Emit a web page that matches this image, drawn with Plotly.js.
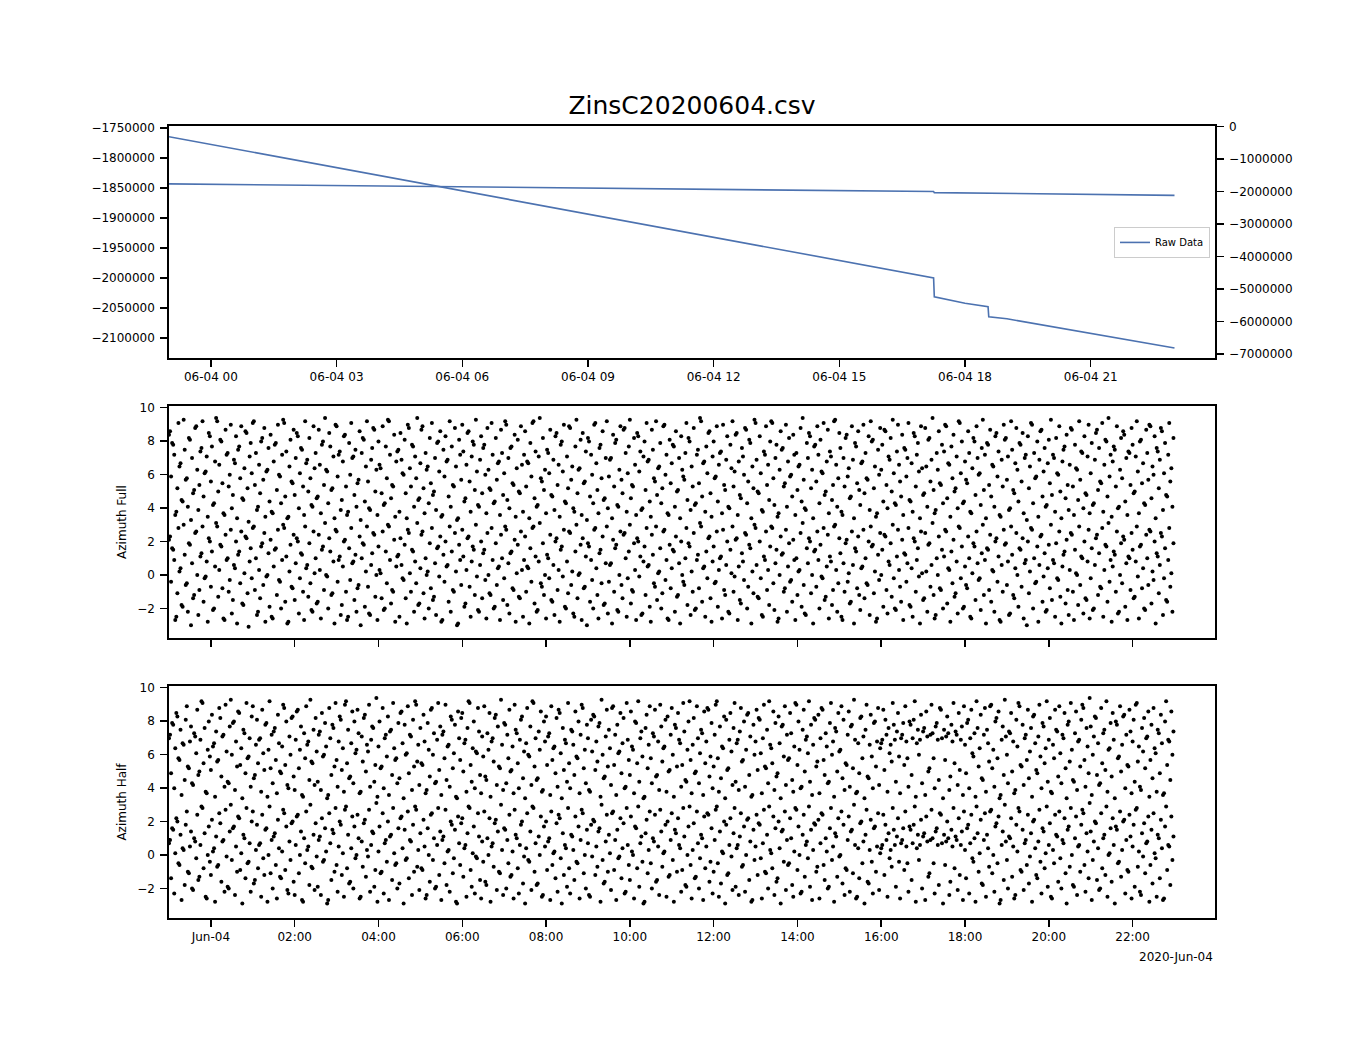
<!DOCTYPE html>
<html>
<head>
<meta charset="utf-8">
<script src="https://cdn.plot.ly/plotly-3.0.1.min.js"></script>
<style>
  html, body { margin: 0; padding: 0; background: #fff; }
  #graph_area { width: 1350px; height: 1050px; }
</style>
</head>
<body>
<div id="graph_area"></div>
<script>
// raw counter
const rawTimes = [
  "2020-06-03 23:00", "2020-06-04 00:00", "2020-06-04 01:00", "2020-06-04 02:00",
  "2020-06-04 03:00", "2020-06-04 04:00", "2020-06-04 05:00", "2020-06-04 06:00",
  "2020-06-04 07:00", "2020-06-04 08:00", "2020-06-04 09:00", "2020-06-04 10:00",
  "2020-06-04 11:00", "2020-06-04 12:00", "2020-06-04 13:00", "2020-06-04 14:00",
  "2020-06-04 15:00", "2020-06-04 16:00", "2020-06-04 17:00", "2020-06-04 17:15",
  "2020-06-04 17:16", "2020-06-04 18:00", "2020-06-04 18:33", "2020-06-04 18:34",
  "2020-06-04 19:00", "2020-06-04 20:00", "2020-06-04 21:00", "2020-06-04 22:00",
  "2020-06-04 23:00"
];
const rawValues = [
  -1764600, -1777500, -1790400, -1803300,
  -1817000, -1829500, -1842500, -1855300,
  -1868500, -1881000, -1894000, -1907000,
  -1920000, -1932500, -1945000, -1958000,
  -1971000, -1984000, -1996500, -1999800,
  -2031400, -2042000, -2048000, -2064600,
  -2068000, -2080000, -2092000, -2104000,
  -2116600
];

// azimuth samples, one every 90 s from 23:00
const sampleStart = "2020-06-03T23:00:00Z";
const sampleStepSec = 90;

const azimuthFull = [
  2.1,2.3,-0.4,1.6,1.5,0.9,-2.7,-2.5,-1.1,2.8,0.2,0.4,-1.8,-1.9,3.0,1.2,-0.6,-0.5,-2.2,1.9,
  1.8,-3.0,0.7,-1.4,-1.2,2.5,2.6,0.0,-2.4,-0.9,1.1,1.3,2.9,-1.6,-0.2,-0.1,0.8,-2.8,2.2,2.0,
  -0.7,1.4,-2.1,-2.0,0.5,3.1,2.9,-1.3,0.3,1.8,1.7,-0.8,-2.6,-2.7,2.4,0.9,1.0,-1.0,-0.3,2.7,
  -2.3,-1.5,0.6,0.4,2.0,-2.9,1.2,1.4,-0.5,2.6,-1.7,-1.8,0.1,2.3,2.2,-1.1,-3.1,0.8,1.6,-0.2,
  2.8,2.9,-0.9,1.0,-2.4,-2.2,0.3,-1.4,1.7,1.9,-0.6,2.5,-2.8,-0.1,0.0,1.3,-1.9,2.1,-2.5,-2.6,
  0.5,1.5,1.6,-1.2,2.7,-0.3,-0.4,-2.0,0.9,3.0,2.8,-1.6,1.1,-2.9,-2.8,0.2,1.8,-0.7,-0.8,2.4,
  -1.5,0.7,2.2,2.0,-2.3,-0.2,1.3,1.2,-1.0,-2.7,2.9,0.4,0.6,-1.3,1.9,-0.5,-2.1,-2.2,2.6,0.1,
  1.0,-1.7,-1.6,2.4,0.3,-2.6,1.5,1.7,-0.9,3.1,0.0,-0.1,-2.0,2.2,1.4,-1.2,-1.1,0.8,-2.9,2.7,
  2.6,-0.4,0.9,1.1,-2.4,-1.8,0.5,2.0,2.1,-1.0,-2.7,-2.5,1.6,-0.3,2.8,0.7,0.8,-1.5,1.2,-2.2,
  -0.8,-0.6,2.3,-3.0,1.0,1.9,1.8,-1.9,0.2,2.9,-0.7,-2.3,-2.4,0.6,1.3,2.5,2.4,-1.3,0.0,-2.7,
  1.7,0.3,0.1,-1.4,2.6,-2.1,-2.0,1.4,-0.5,3.0,2.9,0.9,-1.7,-0.9,-1.0,2.1,-2.8,0.5,1.1,1.2,
  -2.5,2.2,0.6,-0.2,-0.3,1.8,-1.4,-2.9,2.7,2.5,0.1,-1.0,1.5,1.4,-2.2,0.8,-0.5,3.1,-1.8,-1.7,
  0.4,2.4,2.6,-1.1,-2.6,1.0,0.0,0.2,-2.0,1.9,-0.8,2.8,-1.5,-1.3,0.7,-2.4,1.6,1.7,-0.1,2.3,
  -2.8,-2.7,1.2,-0.4,2.0,0.5,0.6,-1.6,2.9,-2.2,1.4,-0.9,-1.0,2.5,0.2,-3.0,-2.9,1.8,0.9,-0.6,
  2.7,1.1,-1.9,-1.7,0.3,2.2,2.3,-0.7,-2.5,0.8,1.7,1.5,-1.2,3.0,-0.1,-2.1,-2.2,0.6,2.0,-1.4,
  1.3,1.5,-0.3,-2.6,2.5,0.0,-1.1,-1.2,2.8,0.9,-2.0,-1.9,1.9,-0.6,0.4,0.5,-2.7,2.4,1.0,-1.5,
  -0.2,2.9,2.7,-1.8,0.7,-2.3,1.3,1.4,-0.8,-0.9,2.1,-2.8,0.1,1.8,-1.3,-1.4,2.6,0.3,-2.5,0.9,
  2.3,-1.0,0.5,0.4,-2.9,1.6,-0.4,2.8,2.9,-1.7,1.1,-2.2,-2.1,0.8,3.1,-0.5,-0.7,1.9,-1.2,0.0,
  -2.6,1.2,1.0,-0.2,2.4,-1.5,-1.6,0.6,-2.4,2.0,2.2,-0.9,0.3,-2.8,1.5,1.7,-0.1,2.7,-1.9,-2.0,
  0.8,-1.1,2.6,2.5,-0.6,0.2,-2.3,-2.5,1.4,3.0,-1.4,0.0,0.1,1.8,-2.7,2.2,-0.8,-0.7,1.1,-3.0,
  1.9,1.7,-1.6,0.9,-0.3,-2.0,2.7,2.8,0.4,-1.2,-2.6,1.3,1.5,-0.5,2.3,-1.8,-1.7,0.7,2.9,-2.3,
  -0.4,0.6,0.7,-2.9,2.1,-1.0,1.6,1.8,-2.1,-2.2,0.0,2.6,-0.6,-1.4,2.4,2.5,1.0,-2.5,-0.2,1.4,
  3.0,-1.7,-0.9,-1.0,1.9,0.3,-2.7,2.2,2.0,-0.1,1.1,-2.4,-2.3,0.8,1.7,-1.2,2.8,0.5,0.6,-1.9,
  -2.8,2.4,1.2,-0.5,-0.7,2.9,-1.5,0.1,0.2,1.6,-2.0,-1.1,2.6,2.7,-0.3,0.9,-2.6,-2.7,1.8,-0.8,
  0.4,1.5,1.4,-2.2,2.3,-1.3,-1.2,0.7,-2.9,2.0,0.0,-0.4,-0.6,1.0,2.8,-1.8,1.9,1.7,-2.4,0.2,
  -1.0,2.5,-2.1,-2.0,0.9,1.2,-0.8,3.1,2.9,-1.6,0.4,0.5,-2.5,1.4,-0.2,2.2,2.3,-1.4,-2.8,0.8,
  1.7,-0.5,-0.4,2.6,-1.9,0.3,1.0,1.1,-2.6,2.7,-0.9,-1.2,0.6,2.0,-2.2,-2.3,1.5,0.1,2.9,-1.0,
  -0.1,2.1,2.2,-2.7,0.5,-1.5,-1.7,1.3,0.8,-0.3,2.5,2.4,-2.0,-0.7,1.8,1.6,-2.9,0.2,-1.1,3.0,
  2.8,0.6,-1.3,-1.4,2.0,-0.2,-2.4,-2.5,1.1,0.9,2.6,-0.9,0.3,-1.8,1.7,2.9,2.8,-0.5,-2.1,0.7,
  1.5,-2.8,-2.6,0.0,2.3,1.2,1.3,-1.0,-0.8,2.7,-2.2,0.5,1.9,-0.4,-0.3,-1.6,2.1,0.9,-2.7,1.0,
  -1.2,0.2,0.3,2.5,-1.9,3.1,-0.6,-2.3,-2.4,1.6,0.7,2.2,2.0,-1.1,0.0,-2.9,1.4,1.5,-0.7,2.6,
  0.9,-2.0,1.8,-0.1,-0.2,2.8,-1.5,-1.3,0.5,2.4,-2.6,1.1,0.8,-1.8,-0.9,2.9,3.0,0.3,-2.2,-0.5,
  2.2,1.3,-2.5,-2.7,0.7,-1.0,1.9,2.1,-0.4,0.1,-1.7,-1.6,2.6,0.6,-2.9,1.6,1.4,-0.8,2.3,-1.2,
  -2.1,0.4,0.5,2.7,-1.4,1.0,-0.5,-0.6,2.0,-2.4,2.9,1.7,1.8,-1.1,0.2,-2.8,-2.6,1.2,-0.3,2.5,
  0.0,1.5,-1.9,2.4,2.3,-0.9,-2.3,0.8,0.6,1.9,-1.3,3.0,-0.2,-2.0,-2.1,1.1,2.7,0.3,-0.7,-1.6,
  2.1,-2.7,1.3,1.2,-0.4,0.7,2.8,-1.8,-1.9,0.4,-2.5,2.2,2.0,-1.0,0.9,1.6,-0.1,-2.9,2.6,0.1,
  -1.5,-1.4,2.5,0.2,-2.2,1.8,1.9,-0.7,0.6,3.1,-1.2,-2.6,-2.4,1.0,0.0,2.3,-0.8,-0.9,1.5,-2.0,
  1.1,2.7,2.6,-1.7,0.4,0.3,-2.8,1.4,-0.5,2.1,-1.3,-1.1,0.8,-2.3,2.9,2.8,-0.2,1.7,-2.0,-1.9,
  0.5,-0.6,-0.8,2.3,1.0,-2.5,-2.6,0.1,1.9,1.7,-1.5,2.6,0.7,-0.3,-0.2,-2.1,1.3,3.0,-1.2,0.9,
  -2.9,1.6,1.5,-0.9,2.4,-1.6,0.3,0.2,-2.2,2.0,2.2,-0.4,1.1,-2.7,-2.8,0.6,-1.0,2.7,1.8,1.9,
  -0.6,0.8,-2.4,-2.3,2.9,1.2,-1.2,-1.4,0.4,2.5,0.0,-1.9,1.6,1.5,-0.7,2.2,-2.6,0.7,0.9,-3.0,
  2.0,-1.1,0.2,2.8,2.7,-2.0,1.0,-0.5,-0.4,1.7,-2.8,0.6,2.3,2.4,-1.6,-0.1,1.3,-2.2,-2.1,0.4,
  1.8,-0.8,3.0,-1.5,0.9,0.7,-2.5,1.9,-0.2,-0.3,2.6,-1.3,-2.9,0.5,1.2,1.4,-1.7,2.1,-0.9,-2.4,
  0.3,2.5,2.4,-1.0,-2.7,1.5,0.1,0.0,-1.8,2.9,-0.6,1.1,1.0,-2.3,2.0,-1.4,-1.5,0.8,2.7,-2.6,
  -0.2,1.6,-2.1,-2.0,0.6,2.2,2.4,-1.2,1.3,-0.7,-0.8,2.8,-2.5,0.3,1.8,1.7,-1.6,3.1,-0.4,0.9,
  -2.8,0.5,1.4,1.2,-1.0,2.6,-2.3,-2.2,0.0,1.9,-0.5,2.3,2.1,-1.9,0.7,-2.7,1.1,1.0,-0.9,2.5,
  1.5,-1.4,-1.3,0.8,2.9,-0.1,-2.6,1.7,1.8,-0.8,0.4,-2.0,-2.1,2.4,1.0,-0.6,2.7,2.6,-1.7,0.2,
  -0.3,2.0,-2.9,1.3,1.1,-1.1,0.6,2.5,2.3,-2.4,-0.2,1.6,-1.5,-1.6,0.9,2.8,-0.7,0.1,-2.2,1.9
];

const azimuthHalf = [
  0.7,0.9,-1.4,1.6,1.5,-2.3,0.1,2.2,2.0,-0.5,-0.6,1.2,-2.7,0.4,0.3,-1.8,1.8,2.6,-1.0,-1.1,
  0.5,1.4,-2.0,-2.1,1.0,0.8,-0.2,2.4,-1.5,-1.3,0.6,2.9,2.8,-0.8,1.3,-2.5,-2.6,0.0,1.7,-0.4,
  -1.2,2.1,0.2,0.4,-2.8,1.1,-0.7,-0.6,2.5,1.9,-1.6,0.8,0.9,-2.2,2.7,-0.1,-1.9,-2.0,1.4,3.0,
  -0.3,1.6,1.7,-2.4,0.5,-1.0,2.3,2.2,-0.9,0.1,-2.9,1.2,1.0,-1.4,2.8,-0.5,-0.4,0.7,-2.2,2.0,
  2.6,-1.7,-1.5,0.3,1.8,-0.8,0.6,0.7,-2.5,2.4,-0.2,-1.2,1.5,1.6,-2.8,0.0,2.9,-1.1,0.9,-2.0,
  1.1,1.3,-0.6,-2.6,2.1,0.4,-1.3,-1.4,0.2,2.7,2.5,-0.9,1.7,-2.1,-2.3,0.8,-0.3,1.9,2.0,-1.6,
  -2.4,0.6,2.3,2.4,-1.1,0.0,1.4,-2.7,-2.8,1.0,-0.5,2.6,0.3,0.5,-1.8,3.0,-0.7,-0.8,1.2,-2.1,
  1.9,-0.1,-1.9,0.9,1.1,-2.4,2.2,-0.4,-0.3,1.6,0.2,-2.9,-2.7,2.5,0.7,-1.5,1.5,1.3,-1.0,2.8,
  -0.6,-2.2,0.5,2.0,1.8,-1.2,0.1,-2.5,2.7,2.9,-0.8,1.2,-1.7,-1.6,0.4,2.3,-2.0,1.7,-0.2,0.0,
  2.4,1.0,-2.6,-2.5,0.8,-0.7,1.9,2.1,-1.3,0.3,-0.1,2.7,-2.2,0.6,1.4,1.3,-1.9,-0.9,3.1,-2.8,
  0.2,1.7,-1.1,-1.0,2.5,-2.3,0.7,0.9,-0.4,2.0,-2.7,1.1,1.2,-1.5,2.8,0.1,-0.6,-0.5,-2.0,1.6,
  -1.7,2.2,2.3,0.4,-2.9,1.5,-0.3,-0.2,2.6,-1.4,0.9,0.8,-2.4,1.8,-1.0,2.9,2.7,-0.7,0.3,-2.1,
  1.3,-0.8,-0.9,2.1,0.5,-2.6,-2.4,1.6,0.0,-1.6,2.4,2.5,-0.3,1.0,-2.0,-1.9,0.6,2.8,-1.2,1.4,
  -2.7,0.9,1.1,-0.5,2.7,-1.8,0.2,0.3,-2.2,2.0,1.8,-1.1,-0.2,1.5,-2.8,-2.9,2.3,0.7,-0.6,1.9,
  2.2,-1.3,0.4,0.6,-2.5,1.3,2.9,2.8,-0.9,-1.9,0.1,1.7,-2.3,-0.1,-0.2,2.5,1.1,-1.5,-2.6,0.8,
  -0.4,2.6,-1.6,-1.8,1.0,0.0,2.2,-2.8,0.5,0.7,-0.7,1.9,2.1,-2.1,1.4,-1.0,-1.1,3.0,0.3,-2.4,
  1.6,1.5,-2.0,0.9,-0.5,2.4,-1.3,-1.2,0.2,-2.6,2.7,1.2,1.0,-0.8,-2.3,0.6,1.8,2.0,-1.7,-0.1,
  -2.9,0.4,2.5,-0.3,-0.4,1.4,-2.1,2.9,2.8,-1.0,0.7,-1.8,-1.7,1.1,0.0,2.3,-2.5,-2.4,1.7,0.5,
  2.0,-0.9,0.8,1.0,-2.7,2.6,-0.6,0.1,0.2,-1.4,1.9,-2.2,2.4,2.2,-0.2,-2.9,1.3,-1.2,0.6,0.4,
  -1.9,2.8,-0.8,-2.3,1.2,1.1,0.3,-1.5,2.3,-0.4,-0.5,1.7,-2.6,0.9,2.7,2.5,-1.1,0.0,-2.0,1.5,
  0.7,-2.4,-2.5,1.8,-0.1,2.1,2.0,-1.2,0.5,-0.7,1.4,1.6,-2.8,3.0,-0.3,-1.7,-1.6,0.8,2.4,-1.0,
  1.2,0.1,-2.1,2.5,2.6,-0.9,0.9,-2.7,1.5,-0.2,-0.1,2.2,-1.4,0.4,1.9,-2.3,-2.2,2.8,0.6,-0.6,
  -1.5,2.3,0.2,0.0,-2.6,1.7,1.6,-0.8,2.9,-1.9,0.7,1.1,-0.4,-2.9,-2.8,1.3,2.1,-1.1,0.3,2.6,
  -0.5,-2.0,1.0,0.8,2.4,-1.6,-1.5,0.5,-2.4,2.7,1.4,-0.7,0.1,0.2,1.8,-2.5,2.0,-1.3,-1.2,0.9,
  2.5,-0.3,-2.8,1.5,1.3,-1.0,2.2,0.6,0.4,-2.2,-0.9,2.8,1.1,-1.8,-1.9,0.0,1.7,2.9,-0.6,-2.6,
  0.3,1.9,-1.4,-1.3,2.6,0.7,-2.0,-0.2,1.2,1.0,-2.7,2.3,-0.8,0.5,2.5,2.4,-1.6,-0.4,1.6,-2.3,
  -1.0,0.9,2.7,2.9,-0.5,-2.5,1.4,-1.7,0.2,0.1,2.0,-2.9,1.8,-1.2,-1.1,0.6,2.2,-0.1,-2.1,1.3,
  2.8,-1.9,0.4,0.6,-2.4,1.1,2.5,-0.7,-0.6,1.7,-2.2,0.0,2.1,2.2,-1.5,0.8,-2.8,-2.7,1.5,-0.3,
  0.5,2.4,-1.2,1.9,1.8,-0.2,-2.6,0.7,2.7,-1.0,-1.1,1.2,-2.0,2.9,0.3,0.1,-0.8,2.3,-2.4,1.6,
  -1.6,-1.4,2.0,0.4,-2.9,1.4,1.5,-0.4,2.6,-2.1,0.9,-0.6,-0.5,2.2,1.0,-1.8,-2.5,0.2,2.8,2.7,
  -0.9,1.7,0.0,-2.3,-2.2,1.2,2.4,-1.3,0.6,0.8,-0.2,2.9,-1.9,1.5,-2.7,0.3,1.9,1.8,-1.0,-0.7,
  2.1,-2.6,0.7,2.5,2.4,-0.6,-1.5,1.0,0.2,-2.0,-1.9,1.6,2.8,-0.3,0.5,-2.8,1.3,1.1,-1.3,2.2,
  -0.1,0.0,2.6,-1.7,1.8,-2.4,-0.8,-0.9,0.9,2.3,-2.2,1.4,1.5,-1.1,3.0,0.6,-2.6,-2.5,0.4,-1.4,
  1.9,2.0,-0.5,0.8,-2.9,1.2,2.7,-1.6,-1.7,0.3,2.1,-0.4,-2.3,1.6,1.7,-1.0,0.5,2.5,-2.1,0.1,
  0.4,0.6,2.4,-1.2,1.8,0.9,-2.5,1.3,-0.2,0.3,-0.7,2.8,1.5,0.6,-1.9,1.1,2.2,-0.4,-2.6,0.7,
  0.9,1.6,-0.9,2.6,0.5,-0.5,-2.2,1.7,1.5,-1.5,0.7,1.8,2.9,-2.8,0.4,1.2,-0.3,0.6,2.1,-2.0,
  1.1,1.3,-2.7,2.3,0.8,-1.3,-1.1,0.9,2.7,1.0,-0.5,-2.3,1.4,1.6,0.6,-1.8,2.5,2.4,0.7,-2.9,
  1.2,-0.6,0.8,2.0,1.0,-2.4,-1.6,1.5,0.5,2.8,-0.8,1.1,0.9,-2.1,2.2,-1.2,0.6,1.4,-2.7,2.6,
  0.3,-1.4,1.6,1.8,-2.3,0.7,2.4,-0.2,-0.4,1.0,-2.8,2.9,1.3,-1.0,0.1,2.1,-1.7,-1.8,0.9,2.5,
  -2.5,1.2,0.4,-0.7,2.6,2.7,-1.1,0.0,-2.2,1.7,1.9,-0.5,2.3,-2.9,-2.7,0.6,1.4,-1.5,3.0,0.8,
  -0.3,-2.0,1.1,1.0,2.2,-1.3,0.5,-2.6,-2.4,1.8,0.2,2.8,2.6,-0.9,-1.0,1.5,-2.1,0.7,0.9,-0.6,
  2.4,-1.7,-0.1,1.3,-2.8,2.0,2.1,0.4,-1.2,-1.4,0.8,2.7,-0.4,-2.3,1.6,1.4,-0.8,0.1,2.9,-1.9,
  0.6,1.9,-2.5,-2.6,0.3,-0.5,2.4,1.2,1.1,-1.6,2.6,-0.2,-2.0,0.9,0.7,2.2,-1.1,-2.9,1.5,1.7,
  -0.7,2.8,0.0,-1.8,-1.9,1.0,2.3,-2.4,0.5,0.6,-1.0,1.8,2.7,2.5,-0.6,-2.2,1.3,0.2,-1.4,3.1,
  1.4,-2.7,-0.3,0.8,2.0,1.9,-1.5,0.4,-2.1,-2.0,2.5,-0.8,1.0,1.2,-1.2,2.9,-2.5,0.0,0.1,1.6,
  -1.6,2.2,0.6,-2.9,1.7,1.5,-0.5,-0.4,2.6,-1.3,0.3,2.0,2.1,-2.3,0.9,-0.9,-1.0,2.4,1.1,-2.6,
  0.5,1.8,-1.9,2.7,2.8,-0.7,0.2,-2.2,-2.4,1.3,-0.1,1.9,-1.1,0.7,0.8,2.3,-2.8,-0.6,1.5,-1.7,
  2.5,0.1,-0.2,-2.5,1.2,1.0,-1.4,2.1,0.4,-2.7,-2.6,1.7,2.9,-0.9,0.6,0.5,-1.8,2.3,-0.3,1.1
];

// tick labels
const bottomTickLabels = ["Jun-04", "02:00", "04:00", "06:00", "08:00", "10:00",
                          "12:00", "14:00", "16:00", "18:00", "20:00", "22:00"];
const offsetLabel = "2020-Jun-04";
const chartTitle = "ZinsC20200604.csv";

const TWO_PI = 2 * Math.PI;

function sampleTimes(n) {
    const t0 = Date.parse(sampleStart);
    const out = [];
    for (let i = 0; i < n; i++) {
        out.push(new Date(t0 + i * sampleStepSec * 1000).toISOString().slice(0, 19).replace("T", " "));
    }
    return out;
}

const tFull = sampleTimes(azimuthFull.length);
const tHalf = sampleTimes(azimuthHalf.length);
const bottomTickVals = bottomTickLabels.map((_, i) => "2020-06-04 " + String(i * 2).padStart(2, "0") + ":00");

const FONT = "DejaVu Sans, sans-serif";
const BLUE = "#4c72b0";
const xRange = ["2020-06-03 23:00", "2020-06-04 23:58"];

function dots(x, y, xa, ya) {
    return {
        x: x, y: y, xaxis: xa, yaxis: ya,
        type: "scatter", mode: "markers", showlegend: false, hoverinfo: "skip",
        marker: { color: "#000", size: 4, line: { width: 0 } },
    };
}

const traces = [
    {
        x: rawTimes, y: rawValues, xaxis: "x", yaxis: "y",
        type: "scatter", mode: "lines", showlegend: false,
        line: { color: BLUE, width: 1.6 },
    },
    {
        x: rawTimes, y: rawValues, xaxis: "x", yaxis: "y2",
        type: "scatter", mode: "lines", name: "Raw Data",
        line: { color: BLUE, width: 1.6 },
    },
    dots(tFull, azimuthFull, "x2", "y3"),
    dots(tFull, azimuthFull.map(v => v + TWO_PI), "x2", "y3"),
    dots(tHalf, azimuthHalf, "x3", "y4"),
    dots(tHalf, azimuthHalf.map(v => v + TWO_PI), "x3", "y4"),
];

const axisBase = {
    showline: true, linecolor: "#000", linewidth: 1.7,
    ticks: "outside", ticklen: 7, tickwidth: 1.5, tickcolor: "#000",
    showgrid: false, zeroline: false,
    tickfont: { family: FONT, size: 12, color: "#000" },
};

const layout = {
    width: 1350, height: 1050,
    margin: { l: 169, r: 135, t: 126, b: 132 },
    paper_bgcolor: "#fff", plot_bgcolor: "#fff",
    font: { family: FONT, color: "#000" },
    title: {
        text: chartTitle, font: { family: FONT, size: 25, color: "#000" },
        x: 0.5, xref: "paper", xanchor: "center", y: 0.9, yanchor: "middle",
    },
    showlegend: true,
    legend: {
        x: 0.9952, xanchor: "right", y: 0.853, yanchor: "middle",
        bgcolor: "rgba(255,255,255,0.8)", bordercolor: "#cccccc", borderwidth: 1,
        font: { family: FONT, size: 10, color: "#000" }, itemwidth: 30,
    },
    xaxis: Object.assign({}, axisBase, {
        domain: [0, 1], anchor: "y", type: "date", range: xRange, mirror: true,
        tick0: "2020-06-04 00:00", dtick: 3 * 3600 * 1000, tickformat: "%m-%d %H",
    }),
    yaxis: Object.assign({}, axisBase, {
        domain: [0.7071, 1], anchor: "x", range: [-2133300, -1746700], mirror: true,
        dtick: 50000, tickformat: "d", ticklabelstandoff: 3,
    }),
    yaxis2: Object.assign({}, axisBase, {
        overlaying: "y", side: "right", anchor: "x", range: [-7123000, 18000],
        dtick: 1000000, tickformat: "d", ticklabelstandoff: 3,
    }),
    xaxis2: Object.assign({}, axisBase, {
        domain: [0, 1], anchor: "y3", type: "date", range: xRange, mirror: true,
        tickvals: bottomTickVals, showticklabels: false,
    }),
    yaxis3: Object.assign({}, axisBase, {
        domain: [0.3535, 0.6465], anchor: "x2", range: [-3.77, 10.1], mirror: true,
        dtick: 2, tick0: 0, ticklabelstandoff: 3,
        title: { text: "Azimuth Full", font: { family: FONT, size: 12, color: "#000" }, standoff: 8 },
    }),
    xaxis3: Object.assign({}, axisBase, {
        domain: [0, 1], anchor: "y4", type: "date", range: xRange, mirror: true,
        tickvals: bottomTickVals, ticktext: bottomTickLabels,
    }),
    yaxis4: Object.assign({}, axisBase, {
        domain: [0, 0.2929], anchor: "x3", range: [-3.77, 10.1], mirror: true,
        dtick: 2, tick0: 0, ticklabelstandoff: 3,
        title: { text: "Azimuth Half", font: { family: FONT, size: 12, color: "#000" }, standoff: 8 },
    }),
    annotations: [{
        text: offsetLabel, xref: "paper", yref: "paper", x: 1, y: -0.0489,
        xanchor: "right", yanchor: "middle", showarrow: false,
        font: { family: FONT, size: 12, color: "#000" },
    }],
};

Plotly.newPlot("graph_area", traces, layout, { staticPlot: true });
</script>
</body>
</html>
